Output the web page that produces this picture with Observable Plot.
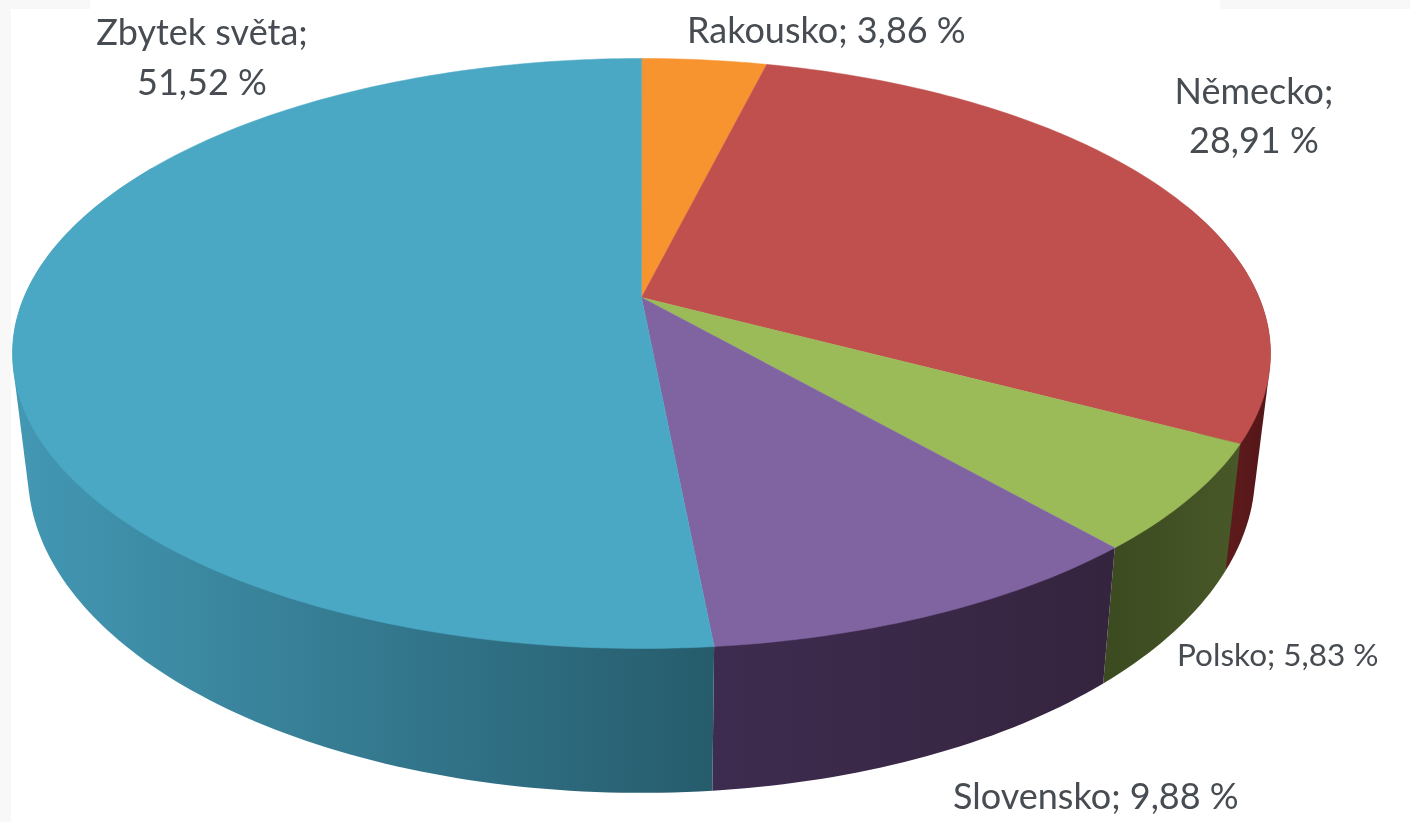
<!DOCTYPE html>
<html lang="cs">
<head>
<meta charset="utf-8">
<script src="https://cdn.jsdelivr.net/npm/d3@7"></script>
<script src="https://cdn.jsdelivr.net/npm/@observablehq/plot@0.6"></script>
<style>
html,body{margin:0;padding:0;background:#fff;overflow:hidden}
#chart{width:1410px;height:822px;background:
  linear-gradient(#f8f8f8,#f8f8f8) 0 0/11px 100% no-repeat,
  linear-gradient(#f8f8f8,#f8f8f8) 0 0/90px 9px no-repeat,
  linear-gradient(#f8f8f8,#f8f8f8) 100% 0/190px 9px no-repeat}
svg{display:block;filter:blur(.6px)}
</style>
</head>
<body>
<div id="chart"></div>
<script>
// Data, clockwise from 12 o'clock
const names = ["Rakousko", "Německo", "Polsko", "Slovensko", "Zbytek světa"];
const shares = [3.86, 28.91, 5.83, 9.88, 51.52];
const labelBreaks = ["; ", ";\n", "; ", "; ", ";\n"];
// Styling
const topColors = ["#f7942f", "#c0504d", "#9bbb59", "#8064a2", "#4aa8c4"];
const wallStops = [
  ["#a05f20", "#a05f20"],
  ["#6a2020", "#541618"],
  ["#3c4a20", "#485828"],
  ["#3e2c50", "#35243e"],
  ["#4398b4", "#265c6c"]
];
const labelSizes = [36, 36, 31.5, 36, 36];
// Pixel offsets of each label from the rim at its slice's mid-angle
const labelDx = [122, 89, 88, 159, 183];
const labelDy = [-33, -77, 154, 179.5, -257];

// Perspective of the disc: tilt, and where the lower rim sits relative to the upper
const tilt = 0.1898;
const depthX = 0.9756, depthY = 1.0865, depthShift = -0.4008;
const project = (deg, lower = false) => {
  const a = deg * Math.PI / 180, u = Math.sin(a), v = Math.cos(a), w = 1 + tilt * v;
  const X = u / w, Y = v / w;
  return lower ? {x: X * depthX, y: Y * depthY + depthShift} : {x: X, y: Y};
};
const arc = (from, to, lower) => d3.range(from, to, 1).concat(to).map(d => project(d, lower));

let sum = 0;
const slices = names.map((name, i) => {
  const start = sum * 3.6; sum += shares[i]; const end = sum * 3.6;
  return {name, start, end, mid: (start + end) / 2, i,
    label: name + labelBreaks[i] + shares[i].toFixed(2).replace(".", ",") + " %"};
});

const topPoints = slices.flatMap(s =>
  [{x: 0, y: 0}, ...arc(s.start, s.end)].map(p => ({...p, name: s.name})));

// Side walls: hull of the upper and lower rim, the top surface is drawn over them
const wallRanges = [null, [70, slices[1].end], [slices[2].start, slices[2].end],
  [slices[3].start, slices[3].end], [slices[4].start, 300]];
const wallMarks = wallRanges.map((r, i) => {
  if (!r) return null;
  const hull = d3.polygonHull([...arc(r[0], r[1]), ...arc(r[0], r[1], true)].map(p => [p.x, p.y]))
    .map(([x, y]) => ({x, y}));
  return Plot.line(hull, {x: "x", y: "y", fill: `url(#wall${i})`, stroke: "none", curve: "linear-closed"});
});

const defs = () => {
  const ns = "http://www.w3.org/2000/svg";
  const d = document.createElementNS(ns, "defs");
  wallStops.forEach((stops, i) => {
    const g = document.createElementNS(ns, "linearGradient");
    g.setAttribute("id", `wall${i}`);
    stops.forEach((c, j) => {
      const s = document.createElementNS(ns, "stop");
      s.setAttribute("offset", j);
      s.setAttribute("stop-color", c);
      g.appendChild(s);
    });
    d.appendChild(g);
  });
  return d;
};

const labelMarks = slices.map(s => {
  const rim = project(s.mid);
  return Plot.text([{...rim, label: s.label}], {
    x: "x", y: "y", text: "label",
    dx: labelDx[s.i], dy: labelDy[s.i],
    textAnchor: "middle", lineAnchor: "middle", lineHeight: 1.375,
    fontFamily: "Lato", fontSize: labelSizes[s.i], fill: "#464c52"
  });
});

const chart = Plot.plot({
  width: 1410, height: 822,
  margin: 0,
  style: {background: "transparent"},
  x: {domain: [-1, 1], range: [23.4, 1258.6], axis: null},
  y: {domain: [-1, 1], range: [581.4, 12.6], axis: null},
  color: {domain: names, range: topColors},
  marks: [
    defs,
    ...wallMarks.filter(Boolean),
    Plot.line(topPoints, {x: "x", y: "y", z: "name", fill: "name", stroke: "name", strokeWidth: 0.5, curve: "linear-closed"}),
    ...labelMarks
  ]
});
document.getElementById("chart").appendChild(chart);
</script>
</body>
</html>
